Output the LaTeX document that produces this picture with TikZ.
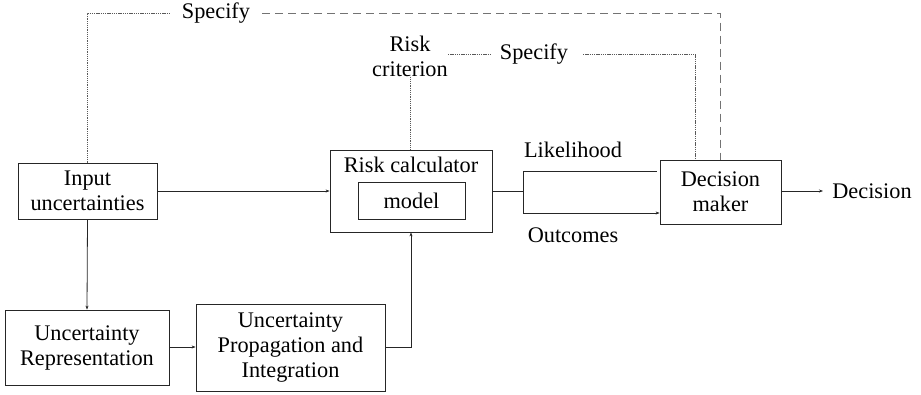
\documentclass[tikz,border=0pt]{standalone}
\usepackage{fontspec}
\setmainfont{Liberation Serif}
\usetikzlibrary{arrows.meta}
\begin{document}
\begin{tikzpicture}[x=1pt,y=-1pt,
  every node/.style={font=\rmfamily\fontsize{22.3}{25}\selectfont, align=center, inner sep=0pt},
  box/.style={draw=black!85, line width=0.8pt},
  conn/.style={draw=black!85, line width=0.8pt},
  arr/.style={conn, -{Stealth[length=4pt,width=3pt]}},
  dotline/.style={draw=black!65, line width=0.8pt, dash pattern=on 1.3pt off 0.9pt},
  dashline/.style={draw=black!55, line width=1pt, dash pattern=on 8pt off 5pt}]
\useasboundingbox (0,0) rectangle (921,394);
% boxes
\node[box, minimum width=139pt, minimum height=56pt] (in) at (87.5,191) {Input\\uncertainties};
\node[box, minimum width=162pt, minimum height=82pt] (calc) at (411,191) {};
\node (calctxt) at (411,165) {Risk calculator};
\node[box, minimum width=107pt, minimum height=37pt] (model) at (411.5,200.5) {model};
\node[box, minimum width=121pt, minimum height=64pt] (dm) at (720.5,192) {Decision\\maker};
\node[box, minimum width=164pt, minimum height=75pt] (rep) at (87,347.5) {Uncertainty\\Representation};
\node[box, minimum width=189pt, minimum height=87pt] (prop) at (290.5,347.5) {Uncertainty\\Propagation and\\Integration};
% labels
\node (dec) at (872,191) {Decision};
\node (sp1) at (216,13) {Specify};
\node (sp2) at (534,54) {Specify};
\node (rc) at (410,56) {Risk\\criterion};
\node (lik) at (573,150) {Likelihood};
\node (out) at (573,235) {Outcomes};
% coordinates
\coordinate (j) at (523,191);
\coordinate (sp1l) at (170,13);
\coordinate (sp1r) at (262,13);
\coordinate (sp2l) at (490,54);
\coordinate (sp2r) at (583,54);
\coordinate (rcr) at (448,54);
\coordinate (lk) at (657,171);
\coordinate (decin) at (823,191);
% connectors
\draw[arr] (in.east) -- (calc.west |- in.east);
\draw[arr] (in.south) -- (rep.north);
\draw[arr] (rep.east |- 0,347) -- (prop.west |- 0,347);
\draw[arr] (prop.east |- 0,347) -| (calc.south);
\draw[conn] (calc.east |- j) -- (j);
\draw[conn] (j) |- (lk);
\draw[arr] (j) |- ([yshift=-21pt]dm.west);
\draw[arr] (dm.east |- dec) -- (decin);
% specify lines
\draw[dotline] (in.north) |- (sp1l);
\draw[dashline] (sp1r) -| (dm.north);
\draw[dotline] (rc.south) -- (rc.south |- calc.north);
\draw[dotline] (rcr) -- (sp2l);
\draw[dotline] (sp2r) -| ([xshift=-25.5pt]dm.north);
\end{tikzpicture}
\end{document}
